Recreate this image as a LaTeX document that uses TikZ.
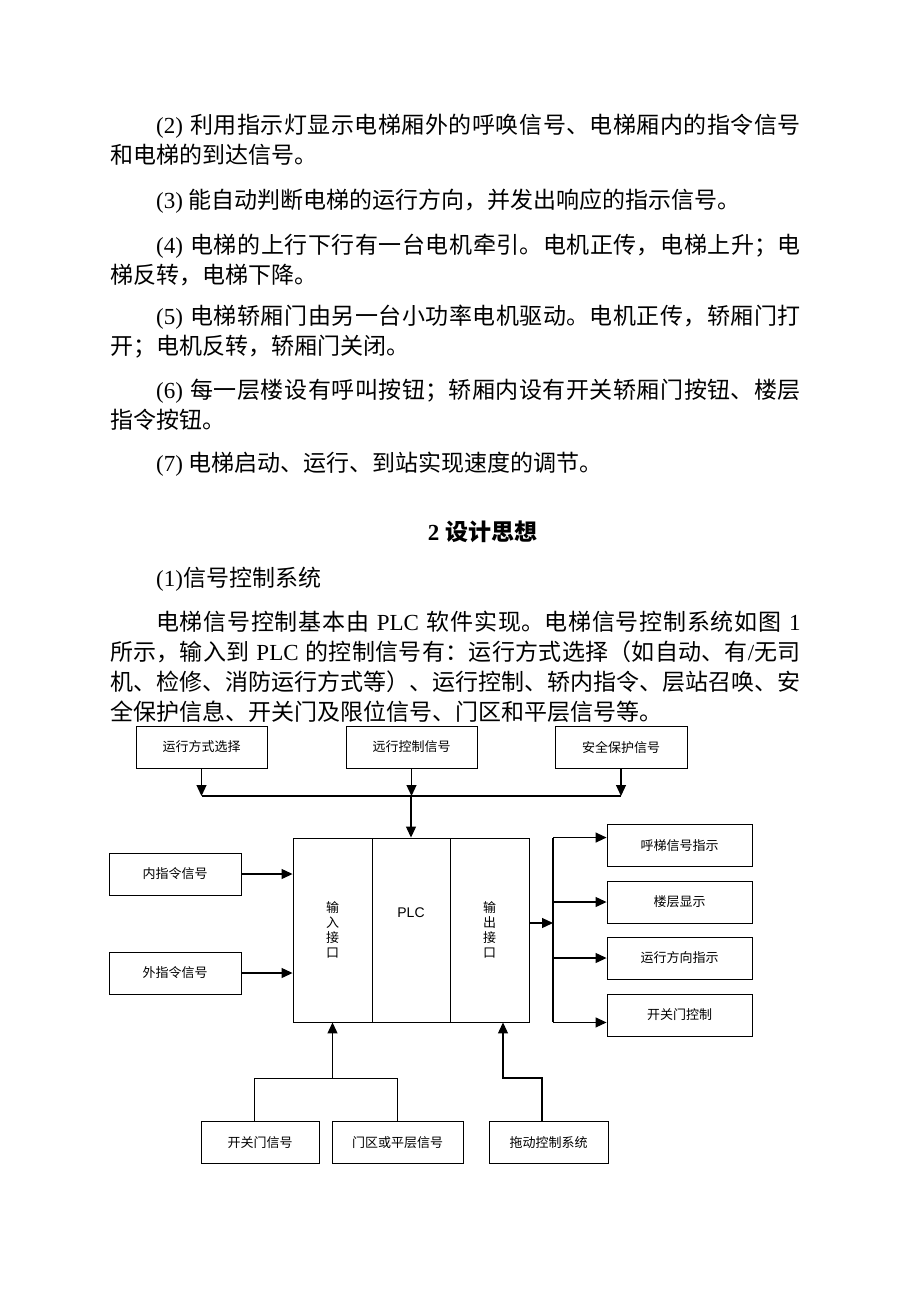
\documentclass[tikz,border=0pt]{standalone}
\usepackage{fontspec}
\setmainfont{Liberation Serif}
\setsansfont{Liberation Sans}
\newfontfamily\cjk{Noto Sans CJK SC}
\XeTeXlinebreaklocale "zh"
\XeTeXlinebreakskip=0pt plus 1pt
\usetikzlibrary{arrows.meta}
\usetikzlibrary{positioning,calc}
\tikzstyle{para}=[anchor=north west,inner sep=0pt,text width=690.5pt,align=justify,font=\cjk\fontsize{23}{30}\selectfont]
\tikzstyle{block}=[draw,line width=0.9pt,inner sep=0pt,minimum height=42pt,font=\cjk\fontsize{13}{15}\selectfont]
\tikzstyle{cell}=[draw,line width=0.9pt,inner sep=0pt,minimum height=184pt,align=center,font=\cjk\fontsize{13}{15}\selectfont]
\tikzstyle{edge} = [draw,line width=1.2pt,-{Triangle[length=11pt,width=10pt]}]
\tikzstyle{wire} = [draw,line width=1.2pt]

\begin{document}
\begin{tikzpicture}[x=1pt,y=-1pt]
    \useasboundingbox (0,0) rectangle (920,1302);
    % The running text above the figure
    \node[para] (p2) at (110,114) {\hspace*{2em}{\rmfamily (2) }利用指示灯显示电梯厢外的呼唤信号、电梯厢内的指令信号\linebreak 和电梯的到达信号。};
    \node[para] (p3) at (110,189) {\hspace*{2em}{\rmfamily (3) }能自动判断电梯的运行方向，并发出响应的指示信号。};
    \node[para] (p4) at (110,234) {\hspace*{2em}{\rmfamily (4) }电梯的上行下行有一台电机牵引。电机正传，电梯上升；电\linebreak 梯反转，电梯下降。};
    \node[para] (p5) at (110,305) {\hspace*{2em}{\rmfamily (5) }电梯轿厢门由另一台小功率电机驱动。电机正传，轿厢门打\linebreak 开；电机反转，轿厢门关闭。};
    \node[para] (p6) at (110,379) {\hspace*{2em}{\rmfamily (6) }每一层楼设有呼叫按钮；轿厢内设有开关轿厢门按钮、楼层\linebreak 指令按钮。};
    \node[para] (p7) at (110,452) {\hspace*{2em}{\rmfamily (7) }电梯启动、运行、到站实现速度的调节。};
    \node[font=\cjk\bfseries\fontsize{23}{28}\selectfont] (h2) at (482.5,532) {{\rmfamily\bfseries 2 }设计思想};
    \node[para] (p1) at (110,567) {\hspace*{2em}{\rmfamily (1)}信号控制系统};
    \node[para] (pp) at (110,611) {\hspace*{2em}电梯信号控制基本由{\rmfamily\ PLC }软件实现。电梯信号控制系统如图{\rmfamily\ 1}\linebreak 所示，输入到{\rmfamily\ PLC }的控制信号有：运行方式选择（如自动、有{\rmfamily /}无司\linebreak 机、检修、消防运行方式等）、运行控制、轿内指令、层站召唤、安\linebreak 全保护信息、开关门及限位信号、门区和平层信号等。};

    % First we draw the blocks
    \foreach \pos/\name/\bw/\label in {{(201.5,747)/mode/131/运行方式选择}, {(411.5,747)/runctl/131/远行控制信号}, {(621,747)/safety/132/安全保护信号},
      {(175,874)/inner/132/内指令信号}, {(175,973)/outer/132/外指令信号},
      {(679.5,845.5)/call/145/呼梯信号指示}, {(679.5,902)/floor/145/楼层显示}, {(679.5,958)/dir/145/运行方向指示}, {(679.5,1015)/door/145/开关门控制},
      {(260,1142.5)/dsig/118/开关门信号}, {(397.5,1142.5)/zone/131/门区或平层信号}, {(548.5,1142.5)/drag/119/拖动控制系统}}
        \node[block,minimum width=\bw pt] (\name) at \pos {\label};

    % PLC with its two interfaces
    \node[cell,minimum width=79pt] (in) at (332.5,930) {输\\入\\接\\口};
    \node[cell,minimum width=78pt] (core) at (411,930) {};
    \node[cell,minimum width=79pt] (out) at (489.5,930) {输\\出\\接\\口};
    \node[font=\sffamily\fontsize{14}{16}\selectfont] (plclabel) at (411,913) {PLC};

    % Connect the top blocks through the bus
    \coordinate (bus) at (411,796);
    \foreach \source in {mode,runctl,safety}
        \path[edge] (\source.south) -- (\source.south |- bus);
    \path[wire] (mode.south |- bus) -- (safety.south |- bus);
    \path[edge] (bus) -- (core.north);

    % Left inputs
    \foreach \source in {inner,outer}
        \path[edge] (\source.east) -- (\source.east -| in.west);

    % Outputs
    \coordinate (split) at (553,923);
    \path[edge] (out.east |- split) -- (split);
    \path[wire] (split |- out.north) -- (split |- out.south);
    \path[edge] (split |- out.north) -- (call.west |- out.north);
    \foreach \dest in {floor,dir}
        \path[edge] (split |- \dest.west) -- (\dest.west);
    \path[edge] (split |- out.south) -- (door.west |- out.south);

    % Bottom inputs
    \coordinate (join) at (332.5,1078);
    \coordinate (dragjoin) at (503,1078);
    \path[wire,line width=1pt] ([xshift=-6pt]dsig.north) |- (zone.north |- join) -- (zone.north);
    \path[edge] (join) -- (in.south);
    \path[edge] ([xshift=-6.5pt]drag.north) |- (dragjoin) -- (dragjoin |- out.south);
\end{tikzpicture}
\end{document}
